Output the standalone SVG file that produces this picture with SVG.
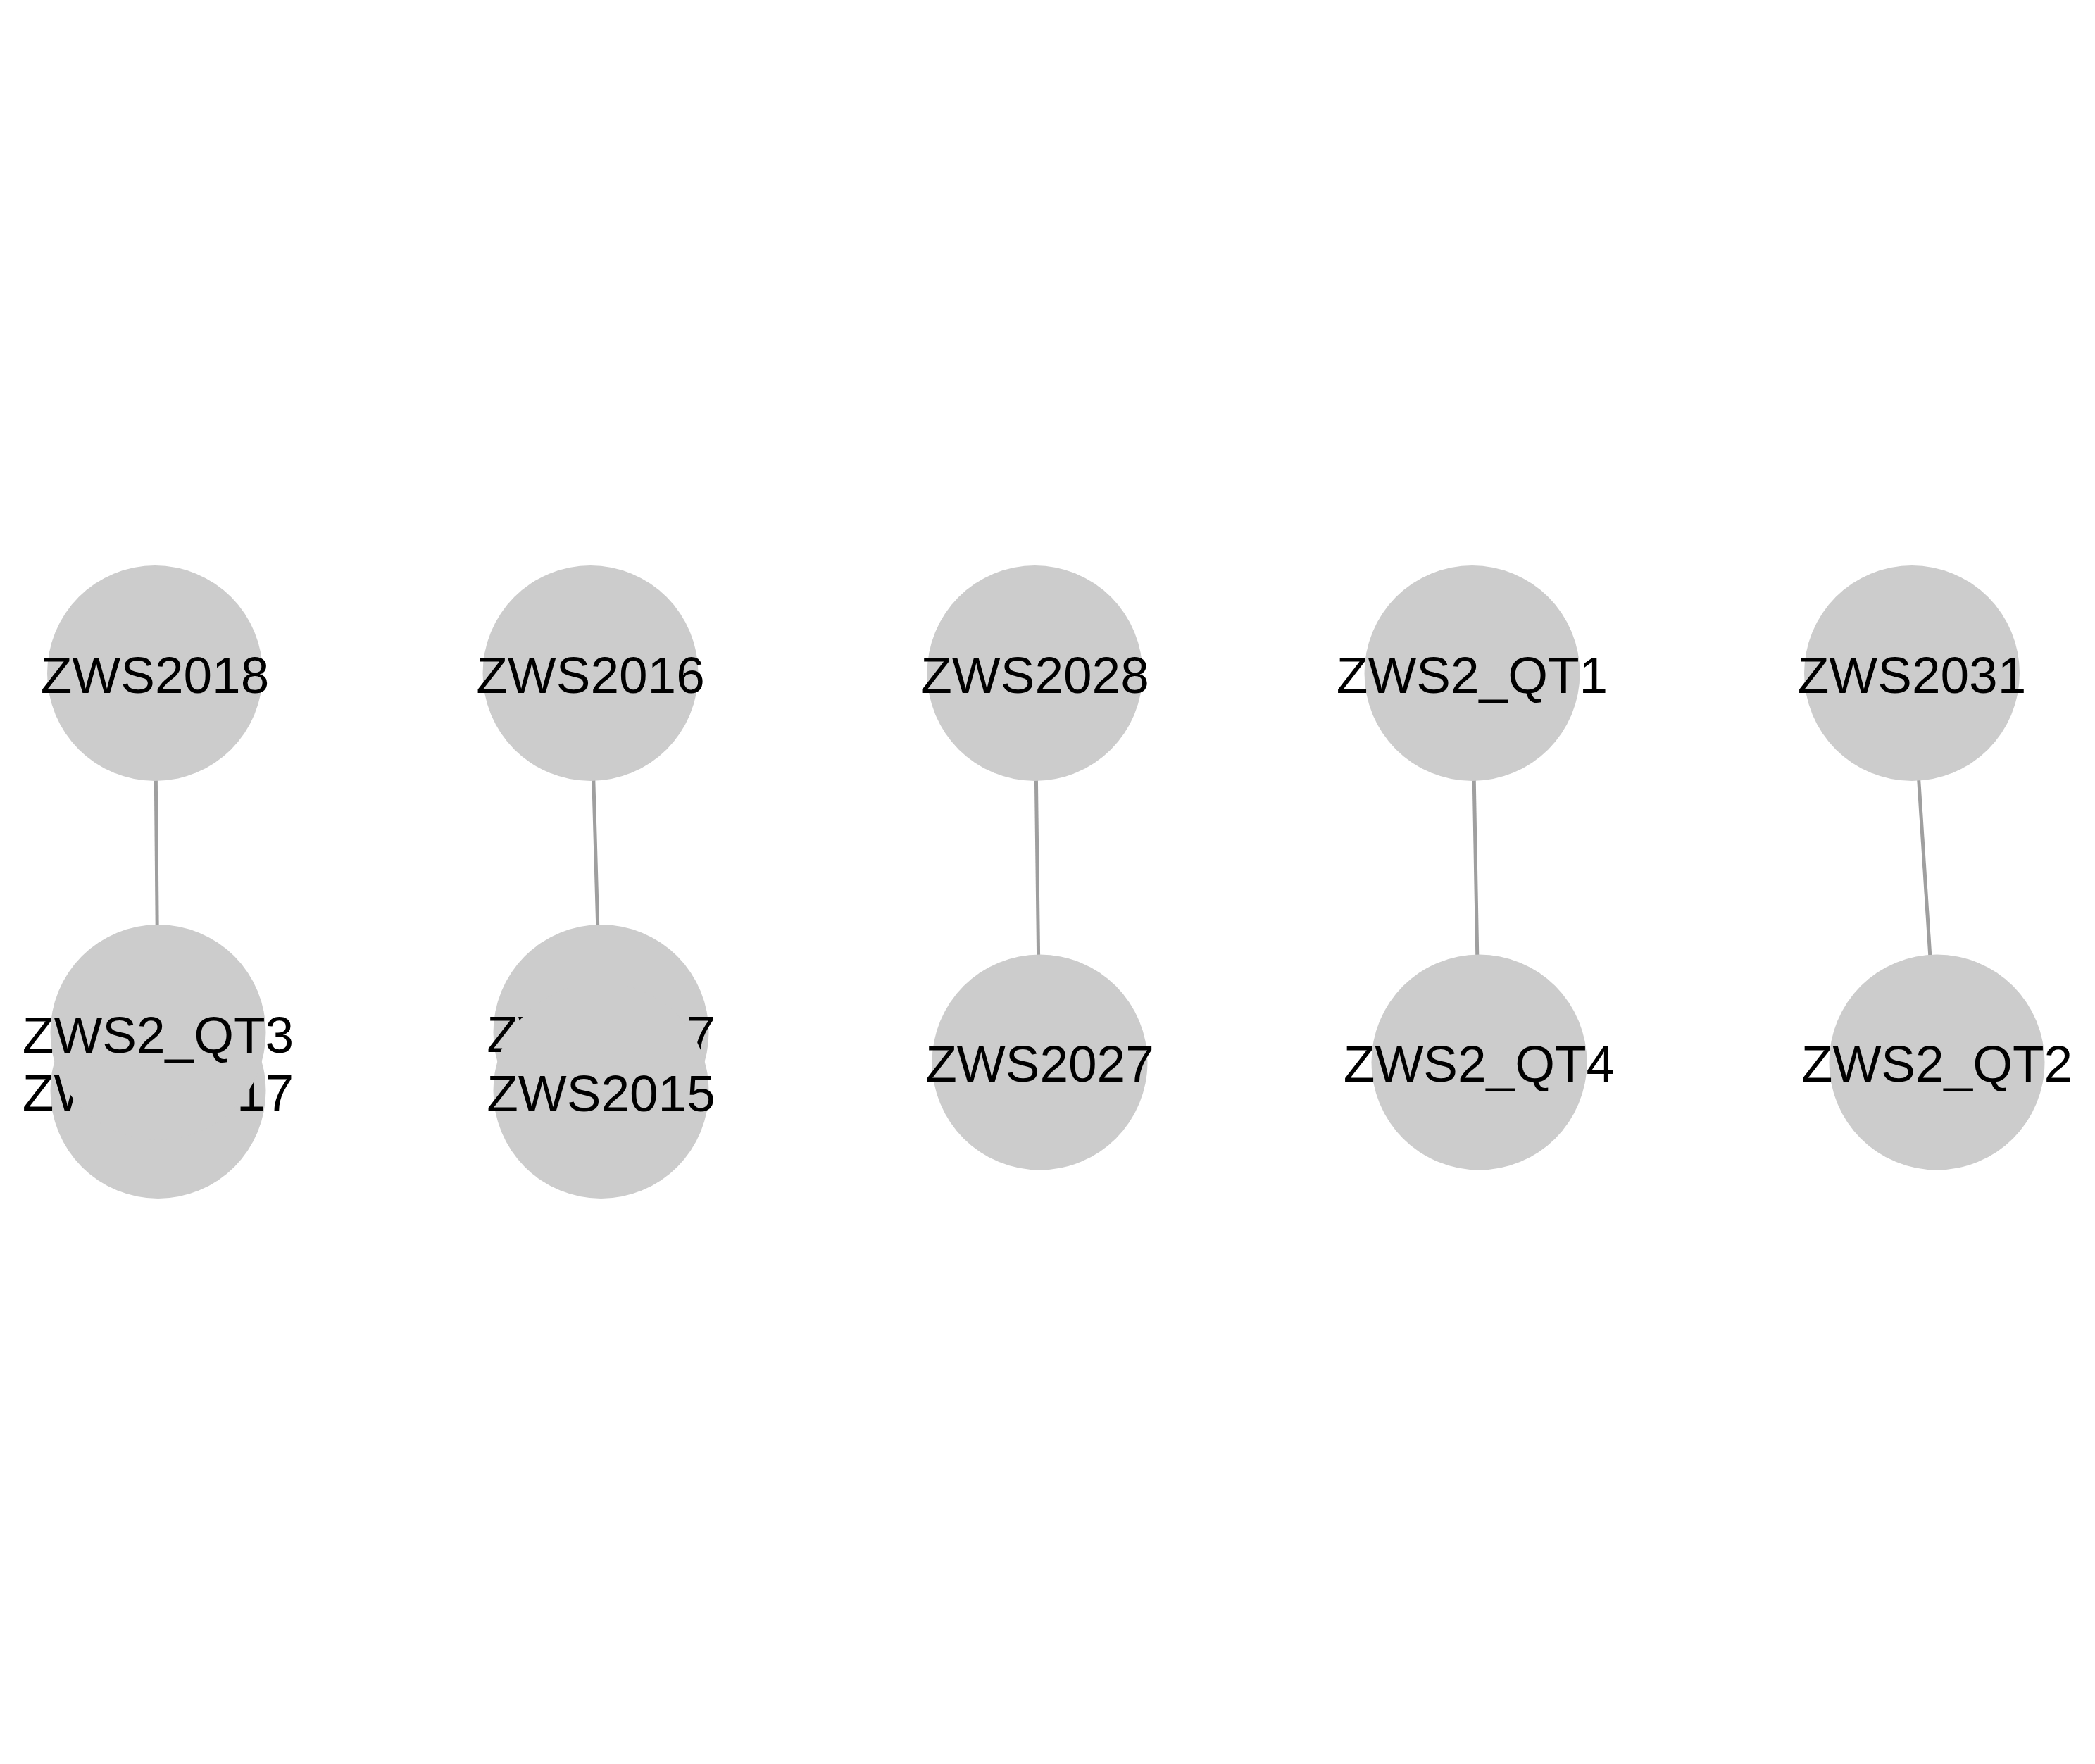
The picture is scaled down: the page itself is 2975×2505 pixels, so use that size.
<svg xmlns="http://www.w3.org/2000/svg" width="2975" height="2505" viewBox="0 0 2975 2505">
<style>
.node circle{fill:#cccccc;stroke:none}
.node text{font-family:"Liberation Sans",Arial,sans-serif;font-size:73px;fill:#000000;text-anchor:middle}
.edge{stroke:#9f9f9f;stroke-width:5;fill:none}
</style>
<rect width="2975" height="2505" fill="#ffffff"/>
<g id="connectors">
<line class="edge" x1="220" y1="956" x2="224.5" y2="1466"/>
<line class="edge" x1="838.5" y1="956" x2="853" y2="1466"/>
<line class="edge" x1="1469.5" y1="956" x2="1476.5" y2="1508.5"/>
<line class="edge" x1="2090.5" y1="956" x2="2100.5" y2="1508.5"/>
<line class="edge" x1="2715" y1="956" x2="2750.5" y2="1508.5"/>
</g>
<g id="node-ZWS2018" class="node"><circle cx="220" cy="956" r="153"/><text x="220" y="984">ZWS2018</text></g>
<g id="node-ZWS_QT17" class="node"><circle cx="224.5" cy="1549" r="153"/><text x="224.5" y="1577">ZWS_QT17</text></g>
<g id="node-ZWS2_QT3" class="node"><circle cx="224.5" cy="1466" r="153"/><text x="224.5" y="1495">ZWS2_QT3</text></g>
<g id="node-ZWS2016" class="node"><circle cx="838.5" cy="956" r="153"/><text x="838.5" y="984">ZWS2016</text></g>
<g id="node-ZWS2017" class="node"><circle cx="853.5" cy="1466" r="153"/><text x="853.5" y="1494">ZWS2017</text></g>
<g id="node-ZWS2015" class="node"><circle cx="853.5" cy="1549" r="153"/><text x="853.5" y="1578">ZWS2015</text></g>
<g id="node-ZWS2028" class="node"><circle cx="1469.5" cy="956" r="153"/><text x="1469.5" y="984">ZWS2028</text></g>
<g id="node-ZWS2027" class="node"><circle cx="1476.5" cy="1508.5" r="153"/><text x="1476.5" y="1536">ZWS2027</text></g>
<g id="node-ZWS2_QT1" class="node"><circle cx="2090.5" cy="956" r="153"/><text x="2090.5" y="984">ZWS2_QT1</text></g>
<g id="node-ZWS2_QT4" class="node"><circle cx="2100.5" cy="1508.5" r="153"/><text x="2100.5" y="1536">ZWS2_QT4</text></g>
<g id="node-ZWS2031" class="node"><circle cx="2715" cy="956" r="153"/><text x="2715" y="984">ZWS2031</text></g>
<g id="node-ZWS2_QT2" class="node"><circle cx="2750.5" cy="1508.5" r="153"/><text x="2750.5" y="1536">ZWS2_QT2</text></g>
</svg>
